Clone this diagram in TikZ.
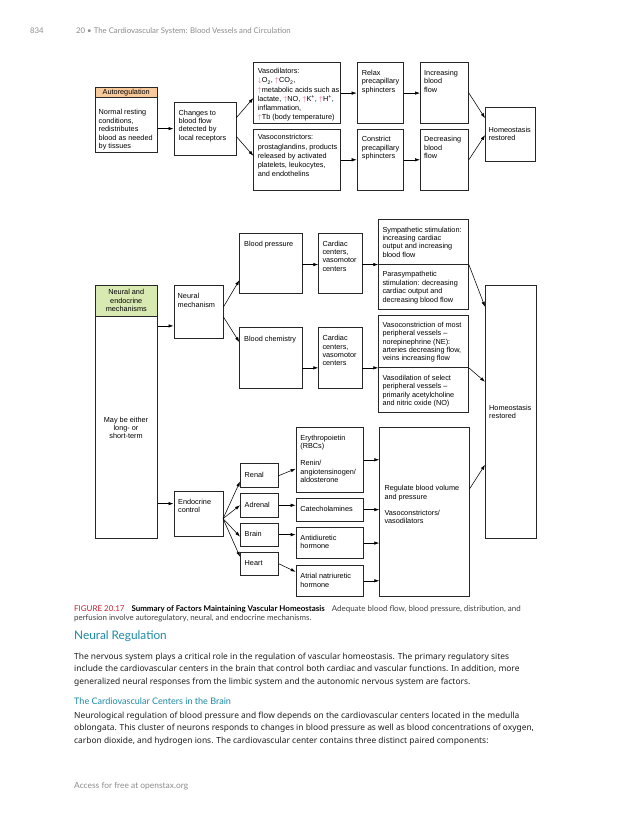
\documentclass[tikz,border=0pt]{standalone}
\usepackage{fontspec}
\usetikzlibrary{arrows.meta}
\setmainfont{Liberation Sans}
\newfontfamily\bodyfont{Noto Sans}
\newfontfamily\headfont{Lato}
\definecolor{autofill}{HTML}{F8C99B}
\definecolor{neurofill}{HTML}{D9E9B2}
\definecolor{markpink}{HTML}{EC4A7E}
\definecolor{headteal}{HTML}{1C8AA6}
\definecolor{figred}{HTML}{C8202F}
\definecolor{pagegray}{HTML}{8C8C8C}
\definecolor{inkgray}{HTML}{1E1E1E}
\newcommand{\diag}{\fontsize{7.3}{8.4}\selectfont}
\newcommand{\diagwide}{\fontsize{7.3}{9.2}\selectfont}
\newcommand{\upmark}{\textcolor{markpink}{$\uparrow$}}
\newcommand{\downmark}{\textcolor{markpink}{$\downarrow$}}
\newcommand{\bodytext}{\bodyfont\fontsize{8.4}{12}\selectfont}
\tikzset{
  box/.style={draw=black!85, line width=0.55pt, inner sep=0pt, anchor=north west},
  txt/.style={inner sep=0pt, anchor=north west, align=left, font=\diag},
  arr/.style={-{Latex[length=5pt,width=3.4pt]}, line width=0.55pt},
  page/.style={inner sep=0pt, anchor=base west},
}
\begin{document}
\begin{tikzpicture}[x=1pt, y=-1pt]
\fill[white] (0,0) rectangle (630,815);
\useasboundingbox (0,0) rectangle (630,815);

\node[page, text=pagegray, font=\headfont\fontsize{7.8}{9}\selectfont] (pgno) at (30,33) {834};
\node[page, text=pagegray, font=\headfont\fontsize{7.8}{9}\selectfont] (runhead) at (76,33) {20 • The Cardiovascular System: Blood Vessels and Circulation};

\node[box, fill=autofill, minimum width=62pt, minimum height=10pt] (autohead) at (95,87) {};
\node[box, minimum width=62pt, minimum height=55pt] (auto) at (95,97) {};
\node[box, minimum width=62.4pt, minimum height=53.3pt] (chg) at (173.5,101.7) {};
\node[box, minimum width=86.7pt, minimum height=61pt] (vdil) at (253.3,62.3) {};
\node[box, minimum width=86.7pt, minimum height=61pt] (vcon) at (253.3,129) {};
\node[box, minimum width=46.6pt, minimum height=61pt] (relax) at (356.7,62.3) {};
\node[box, minimum width=46.6pt, minimum height=61pt] (cons) at (356.7,129) {};
\node[box, minimum width=48.3pt, minimum height=61pt] (inc) at (420,62.3) {};
\node[box, minimum width=48.3pt, minimum height=61pt] (dec) at (420,129) {};
\node[box, minimum width=50pt, minimum height=54.3pt] (home1) at (485,106.7) {};

\node[txt] (autohead-t) at (autohead.center) [anchor=center] {Autoregulation};
\node[txt] (auto-t) at ([shift={(3.5pt,-12.5pt)}]auto.north west) {Normal resting\\conditions,\\redistributes\\blood as needed\\by tissues};
\node[txt] (chg-t) at ([shift={(5pt,-8pt)}]chg.north west) {Changes to\\blood flow\\detected by\\local receptors};
\node[txt, font=\diagwide] (vdil-t) at ([shift={(4.3pt,-6pt)}]vdil.north west) {Vasodilators:\\\downmark O\textsubscript{2}, \upmark CO\textsubscript{2},\\\upmark metabolic acids such as\\lactate, \upmark NO, \upmark K\textsuperscript{+}, \upmark H\textsuperscript{+},\\inflammation,\\\upmark Tb (body temperature)};
\node[txt, font=\diagwide] (vcon-t) at ([shift={(4.3pt,-5.5pt)}]vcon.north west) {Vasoconstrictors:\\prostaglandins, products\\released by activated\\platelets, leukocytes,\\and endothelins};
\node[txt] (relax-t) at ([shift={(5pt,-7.5pt)}]relax.north west) {Relax\\precapillary\\sphincters};
\node[txt] (cons-t) at ([shift={(5pt,-7.5pt)}]cons.north west) {Constrict\\precapillary\\sphincters};
\node[txt] (inc-t) at ([shift={(4pt,-7.5pt)}]inc.north west) {Increasing\\blood\\flow};
\node[txt] (dec-t) at ([shift={(4pt,-7.5pt)}]dec.north west) {Decreasing\\blood\\flow};
\node[txt] (home1-t) at ([shift={(3.5pt,-20pt)}]home1.north west) {Homeostasis\\restored};

\draw[arr] (auto.east |- chg.west) -- (chg.west);
\draw[arr] ([yshift=11pt]chg.east) -- ([yshift=-5pt]vdil.west);
\draw[arr] ([yshift=-8pt]chg.east) -- ([yshift=4pt]vcon.west);
\draw[arr] (vdil.east) -- (relax.west);
\draw[arr] (vcon.east) -- (cons.west);
\draw[arr] (relax.east) -- (inc.west);
\draw[arr] (cons.east) -- (dec.west);
\draw[arr] (inc.east) -- ([yshift=16pt]home1.west);
\draw[arr] (dec.east) -- ([yshift=-1pt]home1.west);

\node[box, fill=neurofill, minimum width=62pt, minimum height=31pt] (nemhead) at (95,285) {};
\node[box, minimum width=62pt, minimum height=222pt] (nem) at (95,316) {};
\node[box, minimum width=49.4pt, minimum height=53.3pt] (nmech) at (173.5,285) {};
\node[box, minimum width=62.4pt, minimum height=60.6pt] (bp) at (239.3,232.7) {};
\node[box, minimum width=62.4pt, minimum height=61pt] (bchem) at (239.3,327.3) {};
\node[box, minimum width=43.4pt, minimum height=60.6pt] (cc1) at (318.3,232.7) {};
\node[box, minimum width=43.4pt, minimum height=61pt] (cc2) at (318.3,327.3) {};
\node[box, minimum width=90pt, minimum height=44.7pt] (symp) at (378.3,219.3) {};
\node[box, minimum width=90pt, minimum height=45pt] (para) at (378.3,264) {};
\node[box, minimum width=90pt, minimum height=52.3pt] (vcon2) at (378.3,315) {};
\node[box, minimum width=90pt, minimum height=45pt] (vdl) at (378.3,367.3) {};
\node[box, minimum width=50.7pt, minimum height=253pt] (home2) at (485,285) {};

\node[txt, align=center, anchor=center] (nemhead-t) at (nemhead.center) {Neural and\\endocrine\\mechanisms};
\node[txt, align=center, anchor=north] (nem-t) at (126,416.7) {May be either\\long- or\\short-term};
\node[txt] (nmech-t) at ([shift={(4pt,-8.3pt)}]nmech.north west) {Neural\\mechanism};
\node[txt] (bp-t) at ([shift={(4.7pt,-8pt)}]bp.north west) {Blood pressure};
\node[txt] (bchem-t) at ([shift={(4.7pt,-8.5pt)}]bchem.north west) {Blood chemistry};
\node[txt] (cc1-t) at ([shift={(4pt,-8pt)}]cc1.north west) {Cardiac\\centers,\\vasomotor\\centers};
\node[txt] (cc2-t) at ([shift={(4pt,-8pt)}]cc2.north west) {Cardiac\\centers,\\vasomotor\\centers};
\node[txt] (symp-t) at ([shift={(4pt,-7.3pt)}]symp.north west) {Sympathetic stimulation:\\increasing cardiac\\output and increasing\\blood flow};
\node[txt] (para-t) at ([shift={(4pt,-7.5pt)}]para.north west) {Parasympathetic\\stimulation: decreasing\\cardiac output and\\decreasing blood flow};
\node[txt] (vcon2-t) at ([shift={(4pt,-6.8pt)}]vcon2.north west) {Vasoconstriction of most\\peripheral vessels –\\norepinephrine (NE):\\arteries decreasing flow,\\veins increasing flow};
\node[txt] (vdl-t) at ([shift={(4pt,-7.5pt)}]vdl.north west) {Vasodilation of select\\peripheral vessels –\\primarily acetylcholine\\and nitric oxide (NO)};
\node[txt] (home2-t) at ([shift={(4pt,-120pt)}]home2.north west) {Homeostasis\\restored};

\coordinate (nin) at ([yshift=-14pt]nmech.west);
\draw[arr] (nin -| nem.east) -- (nin);
\draw[arr] ([yshift=5pt]nmech.east) -- ([yshift=-17pt]bp.west);
\draw[arr] ([yshift=-5pt]nmech.east) -- ([yshift=16pt]bchem.west);
\draw[arr] (bp.east |- symp.south) -- (cc1.west |- symp.south);
\draw[arr] (cc1.east |- symp.south) -- (symp.south west);
\draw[arr] (bchem.east |- vcon2.south) -- (cc2.west |- vcon2.south);
\draw[arr] (cc2.east |- vcon2.south) -- (vcon2.south west);
\draw[arr] (symp.south east) -- ([yshift=105pt]home2.west);
\draw[arr] (vcon2.south east) -- ([yshift=30pt]home2.west);

\node[box, minimum width=49pt, minimum height=45.3pt] (endo) at (173.5,490.7) {};
\node[box, minimum width=38.3pt, minimum height=24pt] (renal) at (240,463.3) {};
\node[box, minimum width=38.3pt, minimum height=23.4pt] (adrenal) at (240,493.3) {};
\node[box, minimum width=38.3pt, minimum height=23.3pt] (brain) at (240,522.7) {};
\node[box, minimum width=38.3pt, minimum height=23pt] (heart) at (240,552) {};
\node[box, minimum width=67.3pt, minimum height=64.4pt] (ery) at (295.7,427.3) {};
\node[box, minimum width=67.3pt, minimum height=23.3pt] (cat) at (295.7,497.7) {};
\node[box, minimum width=67.3pt, minimum height=31pt] (anti) at (295.7,527.3) {};
\node[box, minimum width=67.3pt, minimum height=31pt] (atr) at (295.7,565) {};
\node[box, minimum width=89.7pt, minimum height=168.7pt] (reg) at (379.3,427.3) {};

\node[txt] (endo-t) at ([shift={(4.5pt,-8pt)}]endo.north west) {Endocrine\\control};
\node[txt] (renal-t) at ([shift={(4.5pt,-8.3pt)}]renal.north west) {Renal};
\node[txt] (adrenal-t) at ([shift={(4.5pt,-8.3pt)}]adrenal.north west) {Adrenal};
\node[txt] (brain-t) at ([shift={(4.5pt,-8pt)}]brain.north west) {Brain};
\node[txt] (heart-t) at ([shift={(4.5pt,-8.3pt)}]heart.north west) {Heart};
\node[txt] (ery-t) at ([shift={(4.5pt,-7.7pt)}]ery.north west) {Erythropoietin\\(RBCs)\\[8.4pt]Renin/\\angiotensinogen/\\aldosterone};
\node[txt] (cat-t) at ([shift={(4.5pt,-8.3pt)}]cat.north west) {Catecholamines};
\node[txt] (anti-t) at ([shift={(4.5pt,-7.7pt)}]anti.north west) {Antidiuretic\\hormone};
\node[txt] (atr-t) at ([shift={(4.5pt,-8.3pt)}]atr.north west) {Atrial natriuretic\\hormone};
\node[txt] (reg-t) at ([shift={(5pt,-58pt)}]reg.north west) {Regulate blood volume\\and pressure\\[8pt]Vasoconstrictors/\\vasodilators};

\coordinate (ein) at ([yshift=10pt]endo.west);
\draw[arr] (ein -| nem.east) -- (ein);
\draw[arr] ([yshift=-5pt]endo.east) -- ([yshift=-6pt]renal.west);
\draw[arr] ([yshift=-5pt]endo.east) -- (adrenal.west);
\draw[arr] ([yshift=-5pt]endo.east) -- ([yshift=-2pt]brain.west);
\draw[arr] ([yshift=-5pt]endo.east) -- ([yshift=7pt]heart.west);
\draw[arr] (renal.east) -- ([yshift=-9pt]ery.west);
\draw[arr] (adrenal.east) -- (adrenal.east -| cat.west);
\draw[arr] (brain.east) -- (brain.east -| anti.west);
\draw[arr] (heart.east) -- ([yshift=9pt]atr.west);
\draw[arr] (ery.east) -- (ery.east -| reg.west);
\draw[arr] (cat.east) -- (cat.east -| reg.west);
\draw[arr] (anti.east) -- (anti.east -| reg.west);
\draw[arr] (atr.east) -- (atr.east -| reg.west);
\draw[arr] ([yshift=23pt]reg.east) -- ([yshift=-53pt]home2.west);

\node[page, font=\headfont\fontsize{7.95}{9}\selectfont] (cap1) at (74,611) {\textcolor{figred}{FIGURE 20.17}\hspace{7pt}\textbf{Summary of Factors Maintaining Vascular Homeostasis}\hspace{7pt}\textcolor{inkgray!85}{Adequate blood flow, blood pressure, distribution, and}};
\node[page, text=inkgray!85, font=\headfont\fontsize{7.9}{9}\selectfont] (cap2) at (74,620.5) {perfusion involve autoregulatory, neural, and endocrine mechanisms.};
\node[page, text=headteal, font=\headfont\fontsize{11.8}{13}\selectfont] (sec) at (74,639.5) {Neural Regulation};
\node[page, text=inkgray, font=\bodytext] (p1a) at (74,659) {The nervous system plays a critical role in the regulation of vascular homeostasis. The primary regulatory sites};
\node[page, text=inkgray, font=\bodytext] (p1b) at (74,671.7) {include the cardiovascular centers in the brain that control both cardiac and vascular functions. In addition, more};
\node[page, text=inkgray, font=\bodytext] (p1c) at (74,684.4) {generalized neural responses from the limbic system and the autonomic nervous system are factors.};
\node[page, text=headteal, font=\headfont\fontsize{9.05}{10}\selectfont] (subsec) at (74,704) {The Cardiovascular Centers in the Brain};
\node[page, text=inkgray, font=\bodytext] (p2a) at (74,718) {Neurological regulation of blood pressure and flow depends on the cardiovascular centers located in the medulla};
\node[page, text=inkgray, font=\bodytext] (p2b) at (74,730.7) {oblongata. This cluster of neurons responds to changes in blood pressure as well as blood concentrations of oxygen,};
\node[page, text=inkgray, font=\bodytext] (p2c) at (74,743.4) {carbon dioxide, and hydrogen ions. The cardiovascular center contains three distinct paired components:};
\node[page, text=pagegray, font=\headfont\fontsize{8.4}{9}\selectfont] (foot) at (74,788.5) {Access for free at openstax.org};
\end{tikzpicture}
\end{document}
